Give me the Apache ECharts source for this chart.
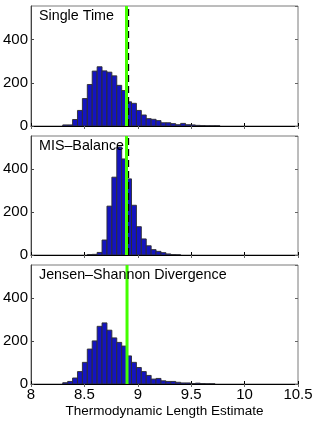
<!DOCTYPE html>
<html><head><meta charset="utf-8">
<script src="https://cdn.jsdelivr.net/npm/echarts@6/dist/echarts.min.js"></script>
<style>html,body{margin:0;padding:0;background:#fff}#c{width:317px;height:425px}</style>
</head><body><div id="c"></div>
<script>
// ---- data ----
const panelTitles = ['Single Time', 'MIS\u2013Balance', 'Jensen\u2013Shannon Divergence'];
const xTicks = [8, 8.5, 9, 9.5, 10, 10.5];
const yTicks = [0, 200, 400];
const xLabel = 'Thermodynamic Length Estimate';
// bin left edges shared by all panels
const binEdges = [8.251,8.297,8.343,8.389,8.435,8.481,8.527,8.573,8.619,8.665,8.711,8.757,8.803,8.849,8.895,8.941,8.987,9.033,9.079,9.125,9.171,9.217,9.263,9.309,9.355,9.401,9.447,9.493,9.539,9.585,9.631,9.677,9.723];
const binWidth = 0.046;
const countsSingle = [0,5,5,30,72,127,192,254,274,255,249,232,188,164,112,105,72,51,34,31,25,15,15,11,6,12,6,5,3,2,1,1,1];
const countsMIS    = [0,0,0,0,0,0,2,3,12,70,228,363,504,448,355,232,132,75,43,25,17,11,5,2,1,0,0,0,0,0,0,0,0];
const countsJS     = [0,6,12,28,58,101,163,201,269,285,251,215,194,177,131,101,77,58,40,23,26,15,12,12,8,5,5,2,4,2,1,1,0];
const greenLine = [8.894, 8.894, 8.899];
const dashedLine = [8.912, 8.912, null];
const yMax = 555;

const chart = echarts.init(document.getElementById('c'), null, {renderer:'canvas'});
const FONT = 'Liberation Sans, Arial, Helvetica, sans-serif';
const grids = [
  {left:29, right:19, top:6, height:120},
  {left:29, right:19, top:136, height:119},
  {left:29, right:19, top:265, height:119}
];
const xAxes = [], yAxes = [], series = [], graphics = [];
const allCounts = [countsSingle, countsMIS, countsJS];
grids.forEach((g, i) => {
  g.show = true; g.borderColor = '#7a7a7a'; g.borderWidth = 1; g.backgroundColor = '#fff';
  const last = i === 2;
  xAxes.push({type:'value', gridIndex:i, min:8, max:10.5, interval:0.5, position:'bottom',
    axisLine:{show:true, lineStyle:{color:'#000', width:1}},
    axisTick:{show:true, inside:true, length:3, lineStyle:{color:'#000'}},
    axisLabel:{show:last, color:'#000', fontSize:15, fontFamily:FONT, margin:3,
      formatter:v => xTicks.includes(v) ? String(v) : ''},
    splitLine:{show:false},
    name: last ? xLabel : '', nameLocation:'middle', nameGap:20,
    nameTextStyle:{color:'#000', fontSize:13.5, fontFamily:FONT}});
  xAxes.push({type:'value', gridIndex:i, min:8, max:10.5, interval:0.5, position:'top',
    axisLine:{show:false}, axisTick:{show:true, inside:true, length:3, lineStyle:{color:'#666'}},
    axisLabel:{show:false}, splitLine:{show:false}});
  yAxes.push({type:'value', gridIndex:i, min:0, max:yMax, interval:200, position:'left',
    axisLine:{show:true, lineStyle:{color:'#444'}},
    axisTick:{show:true, inside:true, length:3, lineStyle:{color:'#444'}},
    axisLabel:{color:'#000', fontSize:15, fontFamily:FONT, margin:3, showMaxLabel:false,
      formatter:v => yTicks.includes(v) ? String(v) : ''},
    splitLine:{show:false}});
  yAxes.push({type:'value', gridIndex:i, min:0, max:yMax, interval:200, position:'right',
    axisLine:{show:false}, axisTick:{show:true, inside:true, length:3, lineStyle:{color:'#666'}},
    axisLabel:{show:false}, splitLine:{show:false}});
  const data = binEdges.map((e, k) => [e, e + binWidth, allCounts[i][k]]).filter(d => d[2] > 0);
  series.push({type:'custom', xAxisIndex:2*i, yAxisIndex:2*i, clip:true, z:2,
    renderItem:(params, api) => {
      const p0 = api.coord([api.value(0), api.value(2)]);
      const p1 = api.coord([api.value(1), 0]);
      return {type:'rect', shape:{x:p0[0], y:p0[1], width:p1[0]-p0[0], height:p1[1]-p0[1]},
        style:{fill:'#1414c0', stroke:'#2e2e2e', lineWidth:0.9}};
    },
    encode:{x:[0,1], y:2}, data});
  if (dashedLine[i] !== null) {
    series.push({type:'line', xAxisIndex:2*i, yAxisIndex:2*i, symbol:'none', z:3,
      data:[[dashedLine[i],0],[dashedLine[i],yMax]],
      lineStyle:{color:'#000', width:1.5, type:[7,4]}});
  }
  series.push({type:'line', xAxisIndex:2*i, yAxisIndex:2*i, symbol:'none', z:4,
    data:[[greenLine[i],0],[greenLine[i],yMax]],
    lineStyle:{color:'#44ff00', width:3}});
  graphics.push({type:'text', left:39, top:g.top + 3, z:10,
    style:{text:panelTitles[i], fill:'#000', font:'14.3px ' + FONT}});
});
chart.setOption({animation:false, grid:grids, xAxis:xAxes, yAxis:yAxes, series, graphic:graphics});
</script></body></html>
